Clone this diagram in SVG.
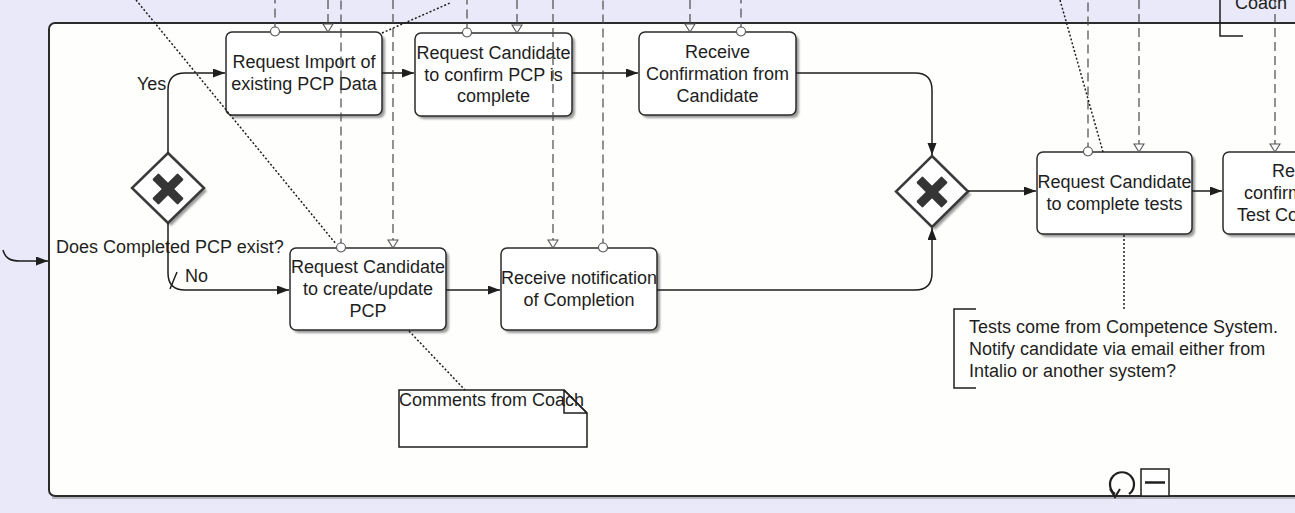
<svg xmlns="http://www.w3.org/2000/svg" width="1295" height="513" viewBox="0 0 1295 513">
  <defs>
    <style>
      .lbl { font-family: "Liberation Sans", Arial, sans-serif; font-size: 18px; fill: #1e1e1e; }
      .mid { text-anchor: middle; }
      .task { fill: #ffffff; stroke: #2b2b2b; stroke-width: 1.5; }
      .shade { fill: #9a9a9a; filter: url(#soft); }
      .seq { fill: none; stroke: #1e1e1e; stroke-width: 1.5; marker-end: url(#arrow); }
      .plain { fill: none; stroke: #1e1e1e; stroke-width: 1.5; }
      .msg { fill: none; stroke: #4a4a4a; stroke-width: 1.2; stroke-dasharray: 9 5; }
      .msg-in { marker-end: url(#openTri); }
      .msg-out { marker-start: url(#dot); }
      .assoc { fill: none; stroke: #1e1e1e; stroke-width: 1.5; stroke-dasharray: 2 2; }
      .gw { fill: #ffffff; stroke: #3a3a3a; stroke-width: 2.5; }
      .xmark { fill: #353535; }
      .bracket { fill: none; stroke: #1e1e1e; stroke-width: 1.5; }
    </style>
    <filter id="soft" x="-10%" y="-10%" width="120%" height="120%">
      <feGaussianBlur stdDeviation="1.2"/>
    </filter>
    <marker id="arrow" markerUnits="userSpaceOnUse" markerWidth="13" markerHeight="10" refX="12" refY="4.5" orient="auto">
      <path d="M0,0 L12,4.5 L0,9 Z" fill="#1e1e1e"/>
    </marker>
    <marker id="openTri" markerUnits="userSpaceOnUse" markerWidth="14" markerHeight="14" refX="9" refY="6" orient="auto">
      <path d="M1,1 L9,6 L1,11 Z" fill="#ffffff" stroke="#555555" stroke-width="1.1"/>
    </marker>
    <marker id="dot" markerUnits="userSpaceOnUse" markerWidth="12" markerHeight="12" refX="6" refY="6" orient="auto">
      <circle cx="6" cy="6" r="4.5" fill="#ffffff" stroke="#555555" stroke-width="1.1"/>
    </marker>
  </defs>

  <!-- page background -->
  <rect x="0" y="0" width="1295" height="513" fill="#e9e9f9"/>

  <!-- sub-process container -->
  <g id="subprocess">
    <line x1="52" y1="498" x2="1295" y2="498" stroke="#b4b4bc" stroke-width="2"/>
    <rect x="49" y="23" width="1300" height="473" rx="6" fill="#fefefc" stroke="#2b2b2b" stroke-width="2"/>
    <!-- loop marker -->
    <path d="M1129,494 A12,12 0 1,0 1115,494" fill="none" stroke="#1e1e1e" stroke-width="2.2"/>
    <path d="M1110,489 L1115,497 L1120,489" fill="none" stroke="#1e1e1e" stroke-width="2"/>
    <!-- collapsed marker -->
    <rect x="1141" y="469" width="28" height="27" fill="#ffffff" stroke="#1e1e1e" stroke-width="1.5"/>
    <line x1="1145" y1="482.5" x2="1165" y2="482.5" stroke="#1e1e1e" stroke-width="2.5"/>
  </g>

  <!-- tasks -->
  <g id="task-import">
    <rect class="shade" x="229" y="35" width="156" height="83" rx="6"/>
    <rect class="task" x="226" y="32" width="156" height="83" rx="6"/>
    <text class="lbl mid" x="304" y="68">Request Import of</text>
    <text class="lbl mid" x="304" y="90">existing PCP Data</text>
  </g>

  <g id="task-confirm-request">
    <rect class="shade" x="418" y="36" width="157" height="83" rx="6"/>
    <rect class="task" x="415" y="33" width="157" height="83" rx="6"/>
    <text class="lbl mid" x="493.5" y="59">Request Candidate</text>
    <text class="lbl mid" x="493.5" y="81">to confirm PCP is</text>
    <text class="lbl mid" x="493.5" y="102">complete</text>
  </g>

  <g id="task-confirm-receive">
    <rect class="shade" x="642" y="35" width="157" height="83" rx="6"/>
    <rect class="task" x="639" y="32" width="157" height="83" rx="6"/>
    <text class="lbl mid" x="717.5" y="58">Receive</text>
    <text class="lbl mid" x="717.5" y="80">Confirmation from</text>
    <text class="lbl mid" x="717.5" y="102">Candidate</text>
  </g>

  <g id="task-create">
    <rect class="shade" x="293" y="251" width="156" height="82" rx="6"/>
    <rect class="task" x="290" y="248" width="156" height="82" rx="6"/>
    <text class="lbl mid" x="368" y="273">Request Candidate</text>
    <text class="lbl mid" x="368" y="295">to create/update</text>
    <text class="lbl mid" x="368" y="317">PCP</text>
  </g>

  <g id="task-notify">
    <rect class="shade" x="504" y="251" width="156" height="82" rx="6"/>
    <rect class="task" x="501" y="248" width="156" height="82" rx="6"/>
    <text class="lbl mid" x="579" y="284">Receive notification</text>
    <text class="lbl mid" x="579" y="306">of Completion</text>
  </g>

  <g id="task-tests">
    <rect class="shade" x="1040" y="155" width="155" height="82" rx="6"/>
    <rect class="task" x="1037" y="152" width="155" height="82" rx="6"/>
    <text class="lbl mid" x="1114.5" y="188">Request Candidate</text>
    <text class="lbl mid" x="1114.5" y="210">to complete tests</text>
  </g>

  <g id="task-tests-confirm">
    <rect class="shade" x="1226" y="155" width="156" height="82" rx="6"/>
    <rect class="task" x="1223" y="152" width="156" height="82" rx="6"/>
    <text class="lbl" x="1272" y="177">Re</text>
    <text class="lbl" x="1244" y="199">confirm</text>
    <text class="lbl" x="1237" y="221">Test Co</text>
  </g>

  <!-- gateways -->
  <g id="gateway-split">
    <path class="shade" d="M171,156 L207,191 L171,226 L135,191 Z"/>
    <path class="gw" d="M168,153 L204,188 L168,223 L132,188 Z"/>
    <g transform="translate(168,189) rotate(45)" class="xmark">
      <rect x="-18" y="-4.5" width="36" height="9" rx="1.5"/>
      <rect x="-4.5" y="-18" width="9" height="36" rx="1.5"/>
    </g>
    <text class="lbl" x="56" y="253">Does Completed PCP exist?</text>
  </g>

  <g id="gateway-join">
    <path class="shade" d="M935,159 L971,194.5 L935,230 L899,194.5 Z"/>
    <path class="gw" d="M932,156 L968,191.5 L932,227 L896,191.5 Z"/>
    <g transform="translate(932,192) rotate(45)" class="xmark">
      <rect x="-18" y="-4.5" width="36" height="9" rx="1.5"/>
      <rect x="-4.5" y="-18" width="9" height="36" rx="1.5"/>
    </g>
  </g>

  <!-- annotations -->
  <g id="note-coach">
    <path d="M564,390 H399 V447 H587 V413 Z" fill="#ffffff" stroke="#1e1e1e" stroke-width="1.5"/>
    <path d="M564,390 L587,413 M564,390 V413 H587" fill="none" stroke="#1e1e1e" stroke-width="1.5"/>
    <text class="lbl" x="399" y="406">Comments from Coach</text>
  </g>

  <g id="note-tests">
    <path class="bracket" d="M976,309 H954 V388 H976"/>
    <text class="lbl" x="969" y="333">Tests come from Competence System.</text>
    <text class="lbl" x="969" y="355">Notify candidate via email either from</text>
    <text class="lbl" x="969" y="377">Intalio or another system?</text>
  </g>

  <g id="note-top">
    <path class="bracket" d="M1220,0 V36 H1243"/>
    <text class="lbl" x="1235" y="9">Coach</text>
  </g>

  <!-- connectors -->
  <g id="connectors">
    <!-- sequence flows -->
    <path class="seq" d="M3,250 C5,258 10,261 20,261 L48,261"/>
    <path class="seq" d="M168,153 V90 Q168,73 185,73 H225"/>
    <path class="seq" d="M168,223 V273 Q168,290 185,290 H289"/>
    <path class="plain" d="M170,289 L177,272"/>
    <path class="seq" d="M382,73 H414"/>
    <path class="seq" d="M572,73 H638"/>
    <path class="seq" d="M796,73 H915 Q932,73 932,90 V155"/>
    <path class="seq" d="M446,290 H500"/>
    <path class="seq" d="M657,290 H915 Q932,290 932,273 V228"/>
    <path class="seq" d="M968,191 H1036"/>
    <path class="seq" d="M1192,191 H1222"/>

    <!-- flow labels -->
    <text class="lbl" x="137" y="90">Yes</text>
    <text class="lbl" x="185" y="282">No</text>

    <!-- message flows -->
    <path class="msg msg-out" d="M275,31.5 V0"/>
    <path class="msg msg-in" d="M328,0 V32"/>
    <path class="msg msg-out" d="M341,247.5 V0"/>
    <path class="msg msg-in" d="M393,0 V248"/>
    <path class="msg msg-out" d="M467,32.5 V0"/>
    <path class="msg msg-in" d="M517,0 V33"/>
    <path class="msg msg-in" d="M553,0 V248"/>
    <path class="msg msg-out" d="M603,247.5 V0"/>
    <path class="msg msg-in" d="M690,0 V32"/>
    <path class="msg msg-out" d="M741,31.5 V0"/>
    <path class="msg msg-out" d="M1088,151.5 V0"/>
    <path class="msg msg-in" d="M1139,0 V152"/>
    <path class="msg msg-in" d="M1275,0 V152"/>

    <!-- associations -->
    <path class="assoc" d="M136,0 L336,244"/>
    <path class="assoc" d="M382,33 L450,3"/>
    <path class="assoc" d="M1060,0 L1103,152"/>
    <path class="assoc" d="M1124,235 V309"/>
    <path class="assoc" d="M409,331 L465,390"/>
  </g>
</svg>
